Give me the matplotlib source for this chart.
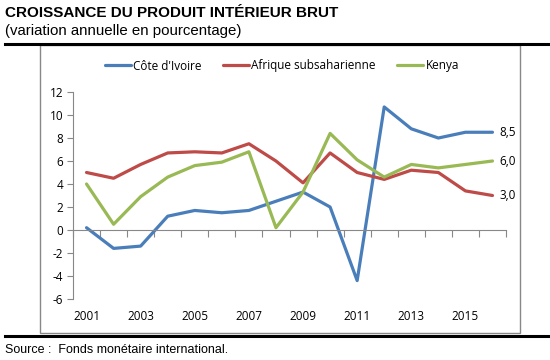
import numpy as np
import matplotlib
matplotlib.use("Agg")
import matplotlib.pyplot as plt
from matplotlib.lines import Line2D
from matplotlib.patches import Rectangle

years = list(range(2001, 2017))
cote_ivoire = [0.2, -1.6, -1.4, 1.2, 1.7, 1.5, 1.7, 2.5, 3.3, 2.0, -4.4, 10.7, 8.8, 8.0, 8.5, 8.5]
afrique_ss = [5.0, 4.5, 5.7, 6.7, 6.8, 6.7, 7.5, 6.0, 4.1, 6.7, 5.0, 4.4, 5.2, 5.0, 3.4, 3.0]
kenya = [4.0, 0.5, 2.9, 4.6, 5.6, 5.9, 6.8, 0.2, 3.3, 8.4, 6.1, 4.6, 5.7, 5.4, 5.7, 6.0]
series_names = ["Côte d'Ivoire", "Afrique subsaharienne", "Kenya"]
colors = ["#4A7EBB", "#BE4B48", "#98B954"]
end_labels = ["8,5", "3,0", "6,0"]

plt.rcParams["font.family"] = ["Liberation Sans", "DejaVu Sans"]
plt.rcParams["axes.unicode_minus"] = False
chart_font = "Open Sans"

fig = plt.figure(figsize=(5.5, 3.6), dpi=100)
W, H = 550, 360

# cadre gris et traits noirs
fig.add_artist(Rectangle((40 / W, 1 - 333 / H), 480 / W, 288 / H, transform=fig.transFigure,
                         fill=False, edgecolor="#888888", linewidth=1.0))
fig.add_artist(Line2D([5 / W, 1.0], [1 - 44 / H] * 2, transform=fig.transFigure, color="black", lw=2.2))
fig.add_artist(Line2D([5 / W, 1.0], [1 - 336 / H] * 2, transform=fig.transFigure, color="black", lw=2.2))

fig.text(5 / W, 1 - 13 / H, "CROISSANCE DU PRODUIT INTÉRIEUR BRUT", fontsize=11, fontweight="bold",
         va="center", ha="left")
fig.text(5 / W, 1 - 31 / H, "(variation annuelle en pourcentage)", fontsize=10.8, va="center", ha="left")
fig.text(5 / W, 1 - 350 / H, "Source :  Fonds monétaire international.", fontsize=9, va="center", ha="left")

ax = fig.add_axes([73 / W, 1 - 299 / H, 433 / W, 207 / H])
x = np.arange(len(years))
for vals, name, c in zip([cote_ivoire, afrique_ss, kenya], series_names, colors):
    ax.plot(x, vals, color=c, lw=2.3, label=name, solid_capstyle="round")
for vals, lab in zip([cote_ivoire, afrique_ss, kenya], end_labels):
    ax.text(x[-1] + 0.25, vals[-1], lab, fontsize=8.5, family=chart_font, va="center", ha="left")

ax.set_xlim(-0.5, len(years) - 0.5)
ax.set_ylim(-6, 12)
ax.set_yticks(np.arange(-6, 13, 2))
ax.tick_params(axis="y", length=4, color="#888888", labelsize=8.5, pad=3)
for lab in ax.get_yticklabels():
    lab.set_family(chart_font)

ax.spines["top"].set_visible(False)
ax.spines["right"].set_visible(False)
ax.spines["left"].set_color("#888888")
ax.spines["bottom"].set_position(("data", 0))
ax.spines["bottom"].set_color("#888888")
ax.set_xticks(np.arange(-0.5, len(years), 1))
ax.tick_params(axis="x", length=5, color="#888888", labelbottom=False)
for i in range(0, len(years), 2):
    ax.text(x[i], -0.085, str(years[i]), transform=ax.get_xaxis_transform(), fontsize=8.5,
            family=chart_font, ha="center", va="center")
ax.patch.set_visible(False)

handles, labels = ax.get_legend_handles_labels()
fig.legend(handles, labels, loc="center", bbox_to_anchor=(282 / W, 1 - 66 / H), ncol=3, frameon=False,
           handlelength=2.2, columnspacing=1.8, handletextpad=0.2, prop={"family": chart_font, "size": 8.5})

fig.savefig("out.png", dpi=100)
